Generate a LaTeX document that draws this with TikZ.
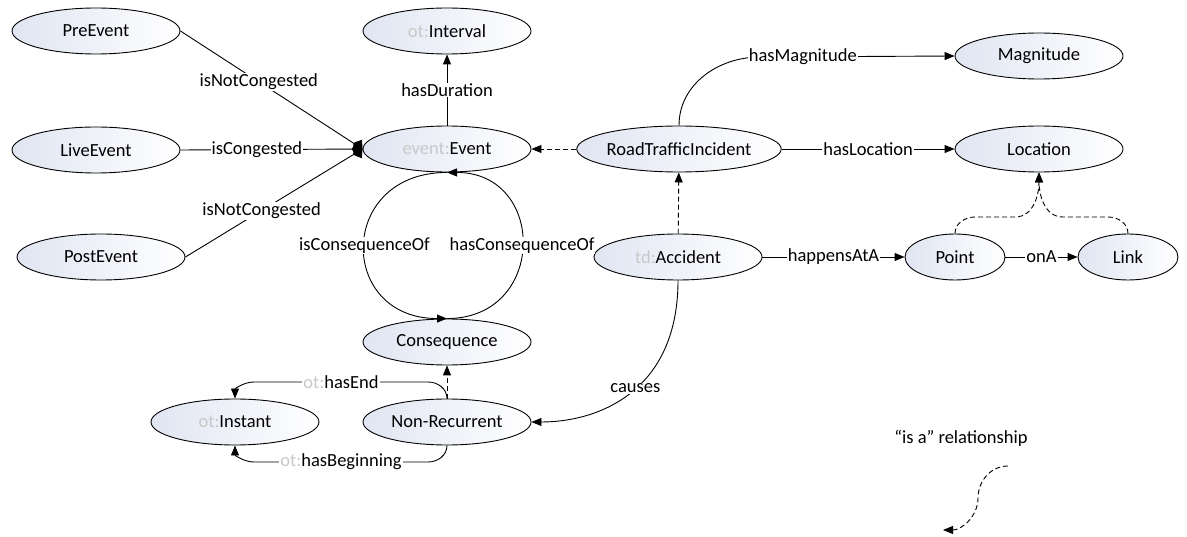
\documentclass[tikz,border=0pt]{standalone}
\usepackage{fontspec}
\setmainfont{Carlito}
\usepackage{tikz}
\usetikzlibrary{shapes.geometric,arrows.meta}
\definecolor{shadeblue}{RGB}{224,229,242}
\definecolor{nsgray}{RGB}{200,200,200}
\newcommand{\ns}[1]{\textcolor{nsgray}{#1}}

\begin{document}
\begin{tikzpicture}[x=1pt,y=1pt,font=\fontsize{18.5}{22}\selectfont,
    cls/.style={ellipse,draw,line width=0.9pt,left color=shadeblue,right color=white,
      minimum width=168pt,minimum height=46pt,inner sep=0pt},
    rel/.style={line width=0.9pt,-{Triangle[length=10pt,width=8pt]}},
    isa/.style={rel,dash pattern=on 5pt off 3pt},
    agg/.style={line width=0.9pt,-{Diamond[length=11pt,width=15pt]}},
    lbl/.style={fill=white,inner sep=1pt}]
  \useasboundingbox (0,0) rectangle (1187,-537);
  % classes
  \node[cls](pre)at(96,-31){PreEvent};
  \node[cls](live)at(96,-150){LiveEvent};
  \node[cls](post)at(101,-257){PostEvent};
  \node[cls](interval)at(447,-31){\ns{ot:}Interval};
  \node[cls](event)at(447,-149){\ns{event:}Event};
  \node[cls,minimum width=198pt](rti)at(679,-149){RoadTrafficIncident};
  \node[cls](acc)at(678,-257){\ns{td:}Accident};
  \node[cls](mag)at(1039,-56){Magnitude};
  \node[cls](loc)at(1039,-149){Location};
  \node[cls,minimum width=100pt](point)at(955,-257){Point};
  \node[cls,minimum width=100pt](link)at(1128,-257){Link};
  \node[cls](cons)at(447,-342){Consequence};
  \node[cls](nonrec)at(447,-422){Non-Recurrent};
  \node[cls](instant)at(235,-422){\ns{ot:}Instant};
  % properties
  \draw[agg](pre.east)--node[lbl,pos=0.43]{isNotCongested}(event.west);
  \draw[agg](live.east)--node[lbl,pos=0.42]{isCongested}(event.west);
  \draw[agg](post.east)--node[lbl,pos=0.43]{isNotCongested}(event.west);
  \draw[rel](event)--node[lbl]{hasDuration}(interval);
  \draw[rel](event.south)..controls +(-110,0) and +(-110,0)..node[lbl]{isConsequenceOf}(cons.north);
  \draw[rel](cons.north)..controls +(100,0) and +(100,0)..node[lbl]{hasConsequenceOf}(event.south);
  \draw[rel](rti.north)to[out=90,in=180](760,-57)--node[lbl,pos=0.22]{hasMagnitude}(mag.west);
  \draw[rel](rti)--node[lbl]{hasLocation}(loc);
  \draw[rel](acc)--node[lbl]{happensAtA}(point);
  \draw[rel](point)--node[lbl]{onA}(link);
  \draw[rel](acc.south)..controls(678,-390)and(600,-422)..node[lbl,pos=0.47]{causes}(nonrec.east);
  \draw[rel](nonrec.north)to[out=90,in=0](428,-382)--node[lbl]{\ns{ot:}hasEnd}(254,-382)to[out=180,in=90](instant.north);
  \draw[rel](nonrec.south)to[out=-90,in=0](428,-462)--node[lbl]{\ns{ot:}hasBeginning}(254,-462)to[out=180,in=-90](instant.south);
  % is-a links
  \draw[isa](rti)--(event);
  \draw[isa](acc)--(rti);
  \draw[isa](nonrec)--(cons);
  \draw[isa](point.north)to[out=90,in=180](975,-217)--(1015,-217)to[out=0,in=-90](loc.south);
  \draw[isa](link.north)to[out=90,in=0](1108,-217)--(1063,-217)to[out=180,in=-90](loc.south);
  % legend
  \node(legend)at(961,-438){“is a” relationship};
  \coordinate(isafrom)at(1008,-466);
  \coordinate(isato)at(943,-530);
  \draw[isa](isafrom)to[out=180,in=90](978,-498)to[out=-90,in=0](isato);
\end{tikzpicture}
\end{document}
